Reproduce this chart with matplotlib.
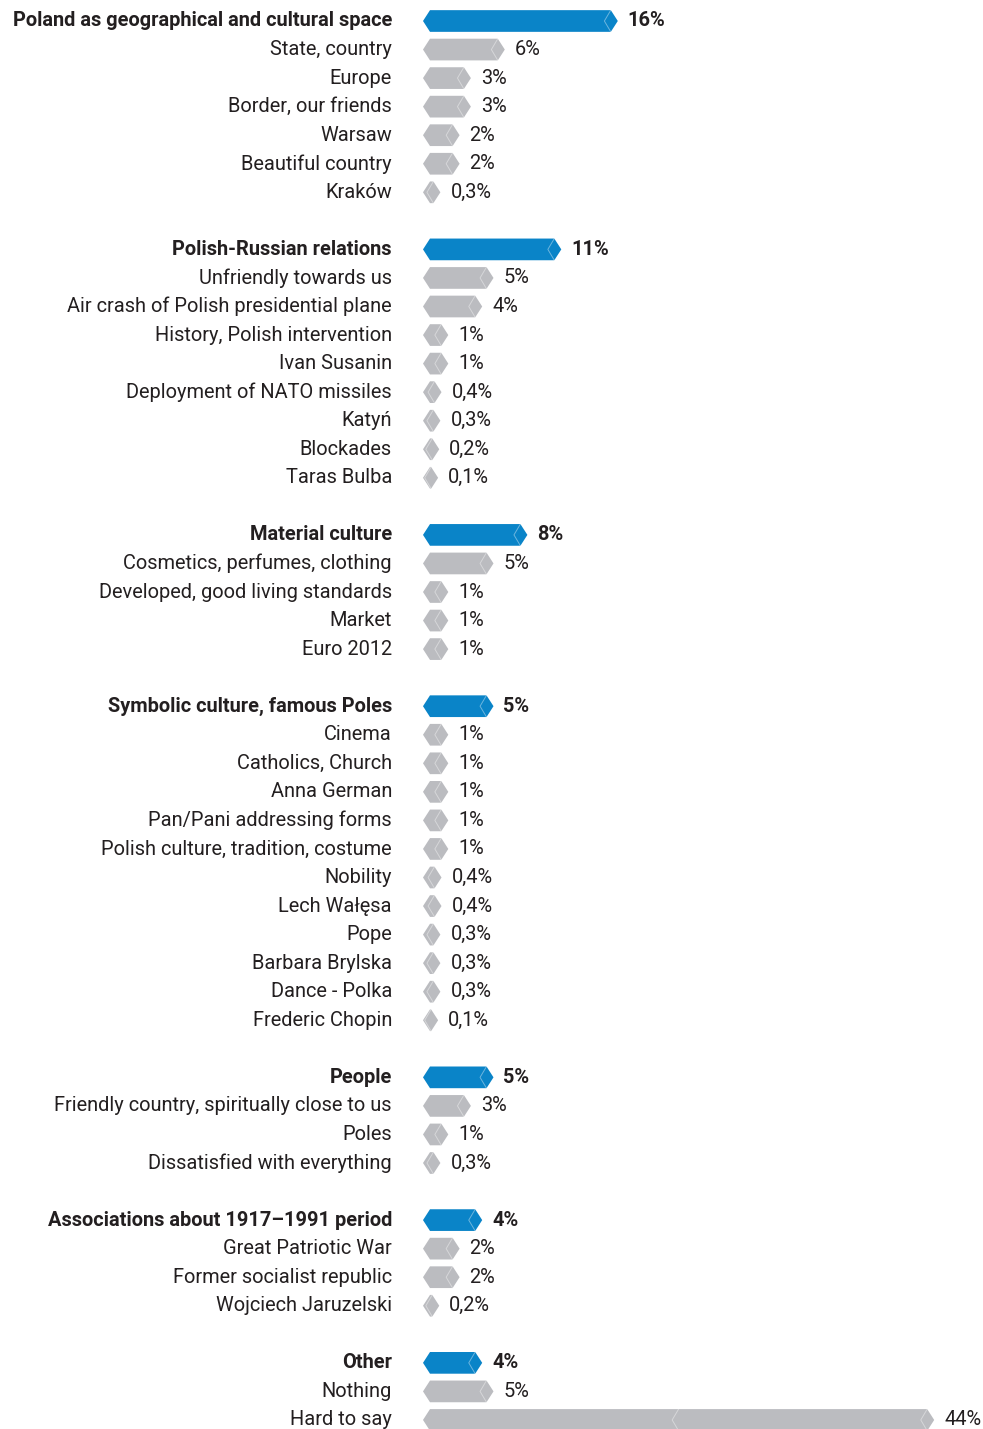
import numpy as np
import matplotlib.pyplot as plt
from matplotlib.patches import Polygon

plt.rcParams['font.family'] = ['Roboto', 'DejaVu Sans']

groups = ["Poland as geographical and cultural space", "Polish-Russian relations",
          "Material culture", "Symbolic culture, famous Poles", "People",
          "Associations about 1917\u20131991 period", "Other"]
group_values = [16, 11, 8, 5, 5, 4, 4]

items = [
    ["State, country", "Europe", "Border, our friends", "Warsaw", "Beautiful country", "Kraków"],
    ["Unfriendly towards us", "Air crash of Polish presidential plane", "History, Polish intervention",
     "Ivan Susanin", "Deployment of NATO missiles", "Katyń", "Blockades", "Taras Bulba"],
    ["Cosmetics, perfumes, clothing", "Developed, good living standards", "Market", "Euro 2012"],
    ["Cinema", "Catholics, Church", "Anna German", "Pan/Pani addressing forms",
     "Polish culture, tradition, costume", "Nobility", "Lech Wałęsa", "Pope",
     "Barbara Brylska", "Dance - Polka", "Frederic Chopin"],
    ["Friendly country, spiritually close to us", "Poles", "Dissatisfied with everything"],
    ["Great Patriotic War", "Former socialist republic", "Wojciech Jaruzelski"],
    ["Nothing", "Hard to say"],
]
item_values = [
    [6, 3, 3, 2, 2, 0.3],
    [5, 4, 1, 1, 0.4, 0.3, 0.2, 0.1],
    [5, 1, 1, 1],
    [1, 1, 1, 1, 1, 0.4, 0.4, 0.3, 0.3, 0.3, 0.1],
    [3, 1, 0.3],
    [2, 2, 0.2],
    [5, 44],
]

BLUE = "#0A84C8"
GREY = "#BBBCC0"
TEXT = "#231F20"

px = 11.3          # pixels per percent
tip = 7 / px       # pointed end, in percent units
row_px = 28.55
h = 0.38           # half bar height in rows
fs = 14.4

fig = plt.figure(figsize=(9.83, 14.29), dpi=100)
ax = fig.add_axes([0, 0, 1, 1])
ax.set_xlim(-423 / px, 560 / px)
ax.set_ylim((1429 - 21) / row_px, -21 / row_px)
ax.axis('off')

def fmt(v):
    if v < 1:
        return str(v).replace('.', ',') + '%'
    return '%d%%' % v

def bar(y, v, label, color, bold):
    w = v + 2 * tip
    pts = [(0, y), (tip, y - h), (w - tip, y - h), (w, y), (w - tip, y + h), (tip, y + h)]
    ax.add_patch(Polygon(pts, closed=True, facecolor=color, edgecolor='none'))
    marks = [w]
    if v > 30:
        marks.append(w / 2 + tip)
    for m in marks:
        ax.plot([m - tip, m - 2 * tip + 0.05, m - tip], [y - h, y, y + h],
                color='white', alpha=0.4, lw=0.7)
    weight = 'bold' if bold else 'normal'
    ax.text(-31 / px, y, label, ha='right', va='center', fontsize=fs, color=TEXT,
            fontweight=weight)
    ax.text(w + 10 / px, y, fmt(v), ha='left', va='center', fontsize=fs, color=TEXT,
            fontweight=weight)

r = 0
for g, gv, its, ivs in zip(groups, group_values, items, item_values):
    bar(r, gv, g, BLUE, True)
    r += 1
    for name, v in zip(its, ivs):
        bar(r, v, name, GREY, False)
        r += 1
    r += 1

fig.savefig("out.png", dpi=100)
